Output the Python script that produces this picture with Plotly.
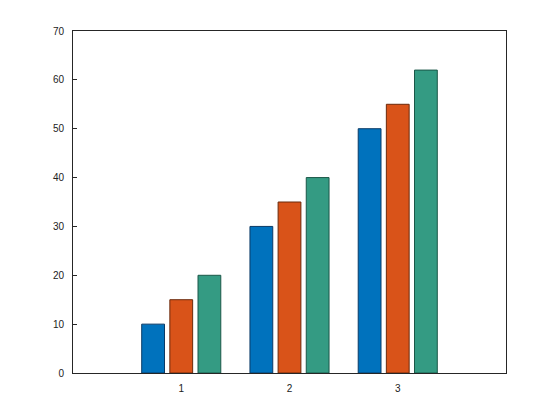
import plotly.graph_objects as go

# grouped bar data
groups = [1, 2, 3]
series_a = [10, 30, 50]
series_b = [15, 35, 55]
series_c = [20, 40, 62]

colors = ['#0072BD', '#D95319', '#349B83']
edges = ['#0A3A66', '#6B2A0C', '#1B5748']

fig = go.Figure()
for vals, col, edge in zip([series_a, series_b, series_c], colors, edges):
    fig.add_trace(
        go.Bar(
            x=groups,
            y=vals,
            marker=dict(color=col, line=dict(color=edge, width=1)),
            showlegend=False
        )
    )

# page body has an 8px margin, so shift the plot area up/left
fig.update_layout(
    width=560,
    height=420,
    margin=dict(l=65, r=62, t=23, b=55),
    plot_bgcolor='white',
    paper_bgcolor='white',
    barmode='group',
    bargap=0.22,
    bargroupgap=0.19,
    font=dict(family='Liberation Sans, Arial, sans-serif', size=10, color='#222222')
)

fig.update_xaxes(
    range=[0, 4],
    tickvals=groups,
    ticktext=[str(g) for g in groups],
    showgrid=False,
    zeroline=False,
    showline=True,
    linecolor='#262626',
    linewidth=1,
    mirror=True,
    ticks='',
    ticklabelstandoff=6
)
fig.update_yaxes(
    range=[0, 70],
    tickvals=list(range(0, 71, 10)),
    showgrid=False,
    zeroline=False,
    showline=True,
    linecolor='#262626',
    linewidth=1,
    mirror=True,
    ticks='inside',
    ticklen=4,
    tickcolor='#262626',
    ticklabelstandoff=6
)

fig.write_html("out.html")
